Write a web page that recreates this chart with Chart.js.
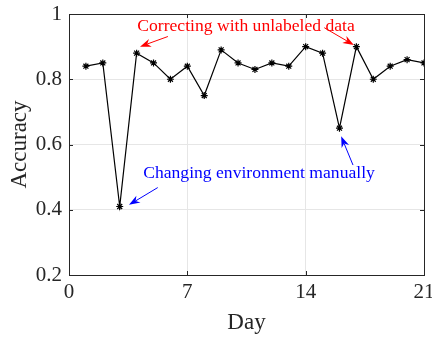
<!DOCTYPE html>
<html><head><meta charset="utf-8">
<script src="https://cdn.jsdelivr.net/npm/chart.js@4"></script>
<style>html,body{margin:0;padding:0;background:#fff}#wrap{width:432px;height:337px}</style>
</head><body><div id="wrap"><canvas id="c" width="432" height="337"></canvas></div>
<script>
const days = [1,2,3,4,5,6,7,8,9,10,11,12,13,14,15,16,17,18,19,20,21];
const accuracy = [0.84,0.85,0.41,0.88,0.85,0.80,0.84,0.75,0.89,0.85,0.83,0.85,0.84,0.90,0.88,0.65,0.90,0.80,0.84,0.86,0.85];
const xTicks = [0,7,14,21];
const yTicks = [0.2,0.4,0.6,0.8,1];
const redLabel = "Correcting with unlabeled data";
const blueLabel = "Changing environment manually";

const FONT = "'Liberation Serif','Times New Roman',serif";

const frame = {
  id:'frame',
  afterDraw(chart){
    const {ctx, chartArea:a, scales:{x,y}} = chart;
    ctx.save();
    ctx.strokeStyle='#262626'; ctx.lineWidth=1;
    ctx.strokeRect(a.left+0.5,a.top+0.5,a.right-a.left,a.bottom-a.top);
    ctx.beginPath();
    const tl=4;
    xTicks.forEach(v=>{const px=Math.round(x.getPixelForValue(v))+0.5;
      ctx.moveTo(px,a.bottom);ctx.lineTo(px,a.bottom-tl);
      ctx.moveTo(px,a.top);ctx.lineTo(px,a.top+tl);});
    yTicks.forEach(v=>{const py=Math.round(y.getPixelForValue(v))+0.5;
      ctx.moveTo(a.left,py);ctx.lineTo(a.left+tl,py);
      ctx.moveTo(a.right,py);ctx.lineTo(a.right-tl,py);});
    ctx.stroke();
    function arrow(x0,y0,x1,y1,color){
      const X0=x.getPixelForValue(x0),Y0=y.getPixelForValue(y0),X1=x.getPixelForValue(x1),Y1=y.getPixelForValue(y1);
      const ang=Math.atan2(Y1-Y0,X1-X0);
      const hl=11, hw=4;
      ctx.strokeStyle=color; ctx.fillStyle=color; ctx.lineWidth=1;
      ctx.beginPath();ctx.moveTo(X0,Y0);ctx.lineTo(X1-hl*0.7*Math.cos(ang),Y1-hl*0.7*Math.sin(ang));ctx.stroke();
      ctx.beginPath();
      ctx.moveTo(X1,Y1);
      ctx.lineTo(X1-hl*Math.cos(ang)+hw*Math.sin(ang),Y1-hl*Math.sin(ang)-hw*Math.cos(ang));
      ctx.lineTo(X1-hl*0.7*Math.cos(ang),Y1-hl*0.7*Math.sin(ang));
      ctx.lineTo(X1-hl*Math.cos(ang)-hw*Math.sin(ang),Y1-hl*Math.sin(ang)+hw*Math.cos(ang));
      ctx.closePath();ctx.fill();
    }
    ctx.font="17.6px "+FONT; ctx.textAlign='center'; ctx.textBaseline='middle';
    ctx.fillStyle='#ff0000';
    ctx.fillText(redLabel, x.getPixelForValue(10.47), y.getPixelForValue(0.961));
    arrow(5.85,0.931,4.2,0.9,'#ff0000');
    arrow(15.1,0.958,16.85,0.905,'#ff0000');
    ctx.fillStyle='#0000ff';
    ctx.fillText(blueLabel, x.getPixelForValue(11.24), y.getPixelForValue(0.511));
    arrow(5.25,0.468,3.55,0.415,'#0000ff');
    arrow(16.8,0.537,16.1,0.625,'#0000ff');
    ctx.restore();
  }
};

new Chart(document.getElementById('c'),{
  type:'line',
  data:{datasets:[{
    data: days.map((d,i)=>({x:d,y:accuracy[i]})),
    borderColor:'#000', borderWidth:1.2, backgroundColor:'#000',
    pointStyle:'star', pointRadius:3.5, pointBorderColor:'#000', pointBorderWidth:1.2,
    tension:0, fill:false
  }]},
  options:{
    responsive:false, animation:false, devicePixelRatio:1,
    layout:{padding:{top:14,right:8,left:0,bottom:0}},
    plugins:{legend:{display:false},tooltip:{enabled:false}},
    scales:{
      x:{type:'linear',min:0,max:21,
        afterBuildTicks(s){s.ticks=xTicks.map(v=>({value:v}));},
        afterFit(s){s.height=62;s.paddingLeft=0;s.paddingRight=0;},
        grid:{color:'#e6e6e6',drawTicks:false},
        border:{display:false},
        ticks:{color:'#262626',font:{family:FONT,size:21},padding:5,maxRotation:0},
        title:{display:true,text:'Day',color:'#262626',font:{family:FONT,size:23},padding:{top:0,bottom:0}}
      },
      y:{type:'linear',min:0.2,max:1,
        afterBuildTicks(s){s.ticks=yTicks.map(v=>({value:v}));},
        afterFit(s){s.width=69;s.paddingTop=0;s.paddingBottom=0;},
        grid:{color:'#e6e6e6',drawTicks:false},
        border:{display:false},
        ticks:{color:'#262626',font:{family:FONT,size:21},padding:7,callback:v=>String(v)},
        title:{display:true,text:'Accuracy',color:'#262626',font:{family:FONT,size:23},padding:{top:6,bottom:0}}
      }
    }
  },
  plugins:[frame]
});
</script></body></html>
